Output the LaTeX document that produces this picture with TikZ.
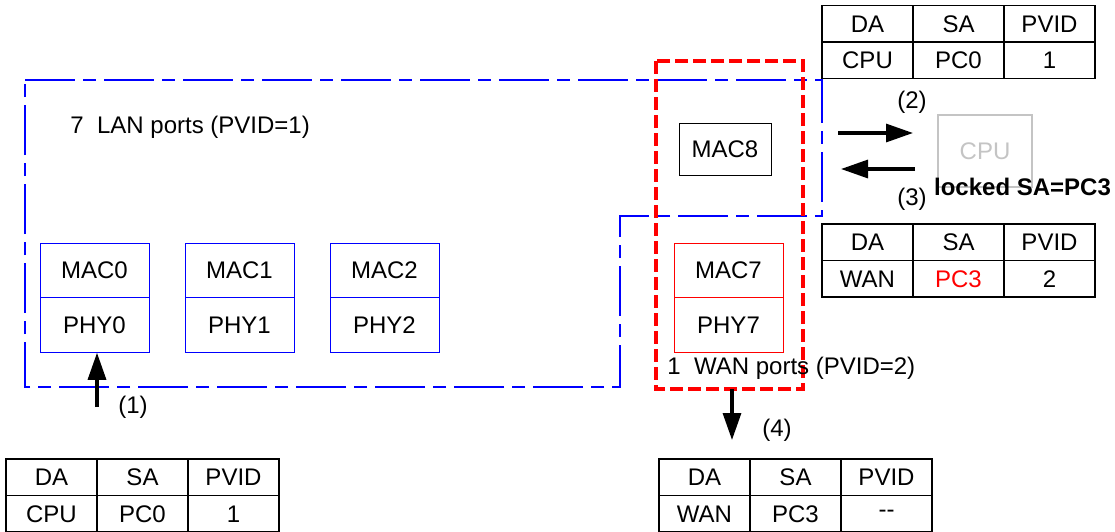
\documentclass[tikz,border=0pt]{standalone}
\usepackage{fontspec}
\setmainfont{Liberation Sans}
\usetikzlibrary{arrows.meta}
\definecolor{cpugray}{HTML}{C4C4C4}
\newcommand{\pkttab}[6]{%
  \node[cell] (#1da) at (#2,#3) {DA};
  \node[cell] (#1sa) at (#1da.north east) {SA};
  \node[cell] (#1pv) at (#1sa.north east) {PVID};
  \node[cell] (#1a) at (#1da.south west) {#4};
  \node[cell] (#1b) at (#1a.north east) {#5};
  \node[cell] (#1c) at (#1b.north east) {#6};
}
\begin{document}
\begin{tikzpicture}[x=0.5pt,y=-0.5pt,
  font=\fontsize{12}{14}\selectfont,
  cell/.style={draw=black,line width=0.7pt,outer sep=0pt,minimum width=45.5pt,minimum height=18.25pt,inner sep=0pt,anchor=north west},
  portbox/.style={draw=blue,line width=0.5pt,minimum width=54.5pt,minimum height=27.25pt,inner sep=0pt},
  wanbox/.style={portbox,draw=red},
  lanline/.style={draw=blue,line width=1pt,dash pattern=on 25pt off 4pt on 6.5pt off 4pt},
  wanline/.style={draw=red,line width=2pt,dash pattern=on 6.5pt off 2.5pt},
  bigarrow/.style={line width=1.6pt,-{Triangle[length=13.5pt,width=9pt]}},
  lbl/.style={inner sep=0pt}
]
\useasboundingbox (0,0) rectangle (1115,531);

% LAN region
\draw[lanline] (25,80) -- (822,80) -- (822,216) -- (620,216) -- (620,387) -- (25,387) -- cycle;
% WAN region
\draw[wanline] (656,61) rectangle (803,389);

% texts
\node[lbl,anchor=west] (lantxt) at (70,127) {7\ \ LAN ports (PVID=1)};
\node[lbl,anchor=west] (wantxt) at (667,368) {1\ \ WAN ports (PVID=2)};

% ports
\node[portbox] (mac0) at (94.5,270.5) {MAC0};
\node[portbox] (phy0) at (94.5,325) {PHY0};
\node[portbox] (mac1) at (239.5,270.5) {MAC1};
\node[portbox] (phy1) at (239.5,325) {PHY1};
\node[portbox] (mac2) at (384.5,270.5) {MAC2};
\node[portbox] (phy2) at (384.5,325) {PHY2};
\node[wanbox] (mac7) at (728.5,270.5) {MAC7};
\node[wanbox] (phy7) at (728.5,325) {PHY7};

\node[draw=black,line width=0.5pt,minimum width=46pt,minimum height=26pt,inner sep=0pt] (mac8) at (725,149) {MAC8};

% CPU
\node[draw=cpugray,text=cpugray,line width=0.6pt,minimum width=47pt,minimum height=36pt,inner sep=0pt] (cpu) at (985,151) {CPU};
\node[lbl,font=\fontsize{12}{14}\selectfont\bfseries] (locked) at (1022.5,187) {locked SA=PC3};

% arrows
\coordinate (a2s) at (838,133);
\coordinate (a2e) at (913,133);
\coordinate (a3s) at (915,169);
\coordinate (a3e) at (841,169);
\draw[bigarrow] (a2s) -- (a2e);
\draw[bigarrow] (a3s) -- (a3e);
\node[lbl] (l2) at (912,102) {(2)};
\node[lbl] (l3) at (912,199) {(3)};

\coordinate (a1s) at (97,407);
\draw[bigarrow] (a1s) -- (a1s |- phy0.south);
\node[lbl] (l1) at (133,407) {(1)};

\coordinate (a4s) at (732,389);
\coordinate (a4e) at (732,440);
\draw[bigarrow] (a4s) -- (a4e);
\node[lbl] (l4) at (777,430) {(4)};

% tables
\pkttab{ta}{822}{5.5}{CPU}{PC0}{1}
\pkttab{tb}{822}{224}{WAN}{\textcolor{red}{PC3}}{2}
\pkttab{tc}{6}{459}{CPU}{PC0}{1}
\pkttab{td}{659}{459}{WAN}{PC3}{{-}{-}}
\end{tikzpicture}
\end{document}
